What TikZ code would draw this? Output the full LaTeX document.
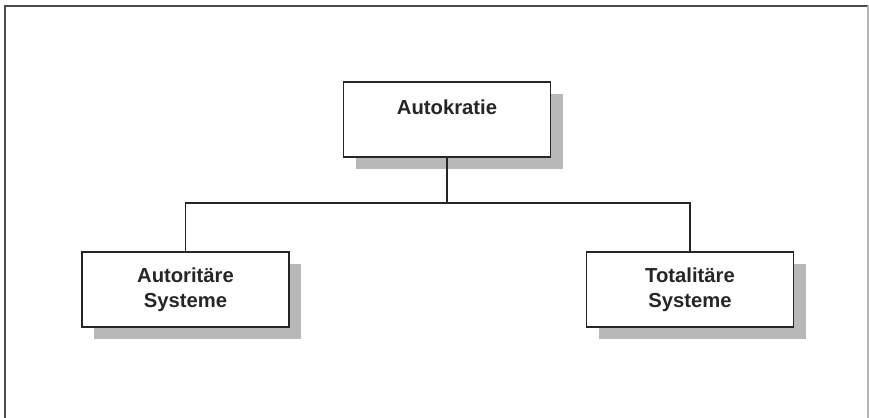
\documentclass[tikz,border=0pt]{standalone}
\usepackage{fontspec}
\setmainfont{Liberation Sans}
\usetikzlibrary{shadows}

\begin{document}
\begin{tikzpicture}[
    formbox/.style={draw=black!85, line width=1.3pt, fill=white,
        minimum width=5.175cm, minimum height=1.875cm, align=center,
        font=\fontsize{14.4}{17.8}\selectfont\bfseries, text=black!85,
        drop shadow={shadow xshift=0.3cm, shadow yshift=-0.3cm, fill=black!28, opacity=1}},
    tree/.style={draw=black!85, line width=1.1pt}
  ]
            \useasboundingbox (0,0) rectangle (21.725,-10.45);
            \draw[black!70, line width=1.4pt] (0.125,-10.45) -- (0.125,-0.16) -- (21.7,-0.16);
            \draw[black!30, line width=0.8pt] (21.7,-0.16) -- (21.7,-10.45);
            \node[formbox] (Autokratie) at (11.175,-2.9875) {Autokratie\\~};
            \node[formbox] (Autoritaer) at (4.6375,-7.2375) {Autoritäre\\Systeme};
            \node[formbox] (Totalitaer) at (17.25,-7.2375) {Totalitäre\\Systeme};
            \coordinate (Verzweigung) at (11.175,-5.075);
            \draw[tree] (Autokratie) -- (Verzweigung);
            \draw[tree] (Verzweigung) -| (Autoritaer);
            \draw[tree] (Verzweigung) -| (Totalitaer);
        \end{tikzpicture}
\end{document}
